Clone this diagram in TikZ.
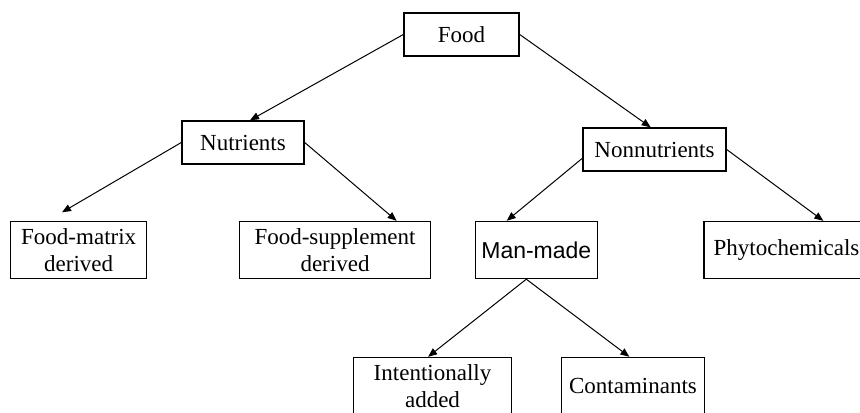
\documentclass[tikz,border=0pt]{standalone}
\usepackage{fontspec}
\setmainfont{Liberation Serif}
\newfontfamily\arialfont{Liberation Sans}
\usetikzlibrary{arrows.meta}

\begin{document}
\begin{tikzpicture}[x=0.5pt, y=-0.5pt, font=\fontsize{11.5}{13.35}\selectfont,
  box/.style={draw, line width=0.7pt, align=center, inner sep=0pt, minimum height=21.5pt},
  tallbox/.style={box, minimum height=28.5pt},
  link/.style={->, >={Triangle[length=4.5pt, width=3.6pt]}, line width=0.5pt},
]
\clip (0,0) rectangle (860,412);
\fill[white] (0,0) rectangle (860,412);

\node[box, minimum width=57.5pt] (food) at (461.5, 34.5) {Food};
\node[box, minimum width=61pt] (nutrients) at (243, 142.5) {Nutrients};
\node[box, minimum width=71.5pt] (nonnutrients) at (654.5, 149.5) {Nonnutrients};
\node[tallbox, minimum width=68pt] (matrix) at (78.7, 250) {Food-matrix\\derived};
\node[tallbox, minimum width=95.5pt] (supplement) at (335, 250) {Food-supplement\\derived};
\node[tallbox, minimum width=61pt, font=\fontsize{11.5}{13.35}\arialfont] (manmade) at (536.3, 250) {Man-made};
\node[tallbox, minimum width=82.5pt] (phyto) at (786.5, 250) {Phytochemicals};
\node[tallbox, minimum width=79pt] (intentional) at (432.5, 386) {Intentionally\\added};
\node[tallbox, minimum width=71.5pt] (contaminants) at (633, 386) {Contaminants};

\draw[link] (food.west) -- ([xshift=3.5pt]nutrients.north);
\draw[link] (food.east) -- ([xshift=-1.9pt]nonnutrients.north);
\draw[link] (nutrients.west) -- ([xshift=-8.35pt, yshift=4.25pt]matrix.north);
\draw[link] (nutrients.east) -- ([xshift=30.8pt]supplement.north);
\draw[link] ([yshift=-4.4pt]nonnutrients.west) -- ([xshift=-14.8pt]manmade.north);
\draw[link] (nonnutrients.east) -- ([xshift=18.4pt]phyto.north);
\draw[link] ([xshift=-5pt]manmade.south) -- ([xshift=-2.2pt]intentional.north);
\draw[link] ([xshift=-5pt]manmade.south) -- ([xshift=-1.8pt]contaminants.north);
\end{tikzpicture}
\end{document}
